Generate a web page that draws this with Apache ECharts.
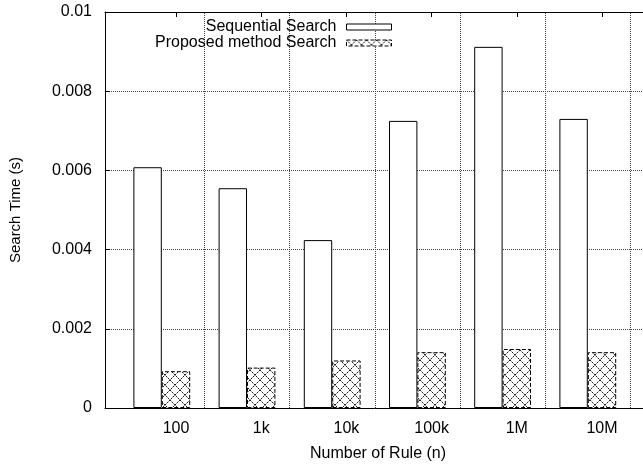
<!DOCTYPE html>
<html>
<head>
<meta charset="utf-8">
<script src="https://cdn.jsdelivr.net/npm/echarts@6/dist/echarts.min.js"></script>
<style>html,body{margin:0;padding:0;background:#fff}#c{width:643px;height:466px}</style>
</head>
<body>
<div id="c"></div>
<script>
// ---- data ----
const categories = ['100', '1k', '10k', '100k', '1M', '10M'];
const sequentialSearch = [0.00608, 0.00555, 0.00424, 0.00725, 0.00912, 0.00730];
const proposedSearch = [0.00093, 0.00102, 0.00120, 0.00141, 0.00149, 0.00141];
const yTicks = { min: 0, max: 0.01, interval: 0.002 };

// ---- hatch pattern ----
const N = 10;
const tile = document.createElement('canvas');
tile.width = N; tile.height = N;
const tc = tile.getContext('2d');
tc.fillStyle = '#fff'; tc.fillRect(0, 0, N, N);
for (let i = 0; i < N; i++) {
  tc.fillStyle = (i % 2 === 0) ? '#222' : '#999';
  tc.fillRect(i, i, 1, 1);
  tc.fillRect(N - 1 - i, i, 1, 1);
}
const hatch = { image: tile, repeat: 'repeat' };

const FONT = 'Liberation Sans, Arial, Helvetica, sans-serif';
const chart = echarts.init(document.getElementById('c'), null, { renderer: 'canvas' });
chart.setOption({
  animation: false,
  backgroundColor: '#fff',
  textStyle: { fontFamily: FONT, color: '#000' },
  grid: [
    { left: 105, right: -8, top: 12, bottom: 58, show: false, outerBoundsMode: 'none', containLabel: false },
    { left: 133.4, right: -1.6, top: 12, bottom: 58, outerBoundsMode: 'none', containLabel: false }
  ],
  xAxis: [
    { type: 'value', gridIndex: 0, min: 0, max: 1, position: 'bottom', axisLabel: { show: false }, axisTick: { show: false }, splitLine: { show: false },
      axisLine: { show: true, lineStyle: { color: '#000', width: 1 } },
      name: 'Number of Rule (n)', nameLocation: 'middle', nameGap: 38,
      nameTextStyle: { fontSize: 16, color: '#000', fontFamily: FONT } },
    { type: 'category', gridIndex: 1, data: categories, position: 'bottom',
      axisLine: { show: false }, axisTick: { show: false }, splitLine: { show: false },
      axisLabel: { fontSize: 16, color: '#000', margin: 13, fontFamily: FONT } },
    { type: 'category', gridIndex: 1, data: categories, position: 'top',
      axisLine: { show: false }, axisLabel: { show: false }, splitLine: { show: false },
      axisTick: { show: true, inside: true, alignWithLabel: true, length: 5, lineStyle: { color: '#000' } } },
    { type: 'value', gridIndex: 0, min: 0, max: 1, position: 'top', axisLabel: { show: false }, axisTick: { show: false }, splitLine: { show: false },
      axisLine: { show: true, lineStyle: { color: '#000', width: 1 } } }
  ],
  yAxis: [
    { type: 'value', gridIndex: 0, min: yTicks.min, max: yTicks.max, interval: yTicks.interval,
      axisLine: { show: true, lineStyle: { color: '#000', width: 1 } },
      axisTick: { show: true, inside: true, length: 5, lineStyle: { color: '#000' } },
      axisLabel: { fontSize: 16, color: '#000', margin: 13, fontFamily: FONT },
      splitLine: { show: true, lineStyle: { type: 'dotted', color: '#444', width: 1 } },
      name: 'Search Time (s)', nameLocation: 'middle', nameGap: 82, nameRotate: 90,
      nameTextStyle: { fontSize: 15, color: '#000', fontFamily: FONT } },
    { type: 'value', gridIndex: 1, min: yTicks.min, max: yTicks.max, show: false }
  ],
  legend: {
    orient: 'vertical', right: 246, top: 14, align: 'right', icon: 'rect',
    itemWidth: 45, itemHeight: 6, itemGap: 0,
    textStyle: { fontSize: 16, color: '#000', fontFamily: FONT, padding: [0, 5, 0, 0] },
    data: [
      { name: 'Sequential Search', itemStyle: { color: '#fff', borderColor: '#000', borderWidth: 1 } },
      { name: 'Proposed method Search', itemStyle: { color: hatch, borderColor: '#000', borderWidth: 1, borderType: 'dashed' } }
    ]
  },
  series: [
    { name: 'Sequential Search', type: 'bar', xAxisIndex: 1, yAxisIndex: 1, z: 3,
      barGap: '0%', barCategoryGap: '0%', data: sequentialSearch,
      itemStyle: { color: '#fff', borderColor: '#000', borderWidth: 1 } },
    { name: 'Proposed method Search', type: 'bar', xAxisIndex: 1, yAxisIndex: 1, z: 3,
      barGap: '0%', barCategoryGap: '0%', data: proposedSearch,
      itemStyle: { color: hatch, borderColor: '#000', borderWidth: 1, borderType: 'dashed' } },
    { name: 'gap', type: 'bar', xAxisIndex: 1, yAxisIndex: 1, z: 1,
      barGap: '0%', barCategoryGap: '0%', data: categories.map(() => '-'),
      markLine: { silent: true, z: 1, symbol: 'none', label: { show: false },
        lineStyle: { type: 'dotted', color: '#444', width: 1 },
        data: categories.map(c => ({ xAxis: c })) } }
  ]
});
</script>
</body>
</html>
